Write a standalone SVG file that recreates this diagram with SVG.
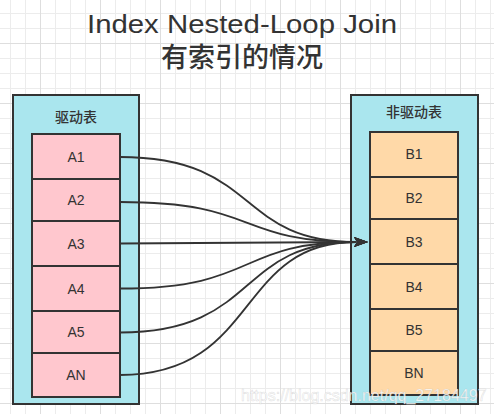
<svg xmlns="http://www.w3.org/2000/svg" width="494" height="414" viewBox="0 0 494 414">
<defs>
<style>
.outer{fill:#aae6ee;stroke:#333;stroke-width:2}
.rowA{fill:#ffc7ce;stroke:#333;stroke-width:2}
.rowB{fill:#ffd9a8;stroke:#333;stroke-width:2}
.lbl{font-family:"Liberation Sans","Noto Sans CJK SC",sans-serif;font-size:14px;fill:#333;text-anchor:middle}
.cjk{font-family:"Noto Sans CJK SC","Liberation Sans",sans-serif;font-size:14px;font-weight:500;fill:#333;text-anchor:middle}
.edge{fill:none;stroke:#333;stroke-width:1.8}
</style>
<pattern id="grid" patternUnits="userSpaceOnUse" x="10" y="13" width="60" height="60">
<rect x="0" y="0" width="1" height="60" fill="#ececec"/>
<rect x="15" y="0" width="1" height="60" fill="#ececec"/>
<rect x="45" y="0" width="1" height="60" fill="#ececec"/>
<rect x="0" y="0" width="60" height="1" fill="#ececec"/>
<rect x="0" y="15" width="60" height="1" fill="#ececec"/>
<rect x="0" y="45" width="60" height="1" fill="#ececec"/>
<rect x="30" y="0" width="1" height="60" fill="#dedede"/>
<rect x="0" y="30" width="60" height="1" fill="#dedede"/>
</pattern>
<marker id="arrow" markerUnits="userSpaceOnUse" markerWidth="16" markerHeight="12" refX="2" refY="5" orient="auto">
<path d="M0,0 L14,5 L0,10 L3,5 Z" fill="#333"/>
</marker>
</defs>
<rect x="0" y="0" width="494" height="414" fill="#fff"/>
<rect x="0" y="0" width="494" height="414" fill="url(#grid)"/>
<g id="title">
<text x="242" y="33" font-family="Liberation Sans, sans-serif" font-size="26" fill="#333" text-anchor="middle" textLength="310" lengthAdjust="spacingAndGlyphs">Index Nested-Loop Join</text>
<text x="242" y="66.5" font-family="Noto Sans CJK SC, sans-serif" font-size="27" font-weight="500" fill="#333" text-anchor="middle">有索引的情况</text>
</g>
<g id="driving-table">
<rect class="outer" x="13" y="95" width="126" height="309"/>
<text class="cjk" x="76" y="121.5">驱动表</text>
</g>
<g id="A1"><rect class="rowA" x="32" y="134" width="88" height="45"/><text class="lbl" x="76" y="161.5">A1</text></g>
<g id="A2"><rect class="rowA" x="32" y="179" width="88" height="42"/><text class="lbl" x="76" y="205">A2</text></g>
<g id="A3"><rect class="rowA" x="32" y="221" width="88" height="45"/><text class="lbl" x="76" y="248.5">A3</text></g>
<g id="A4"><rect class="rowA" x="32" y="266" width="88" height="45"/><text class="lbl" x="76" y="293.5">A4</text></g>
<g id="A5"><rect class="rowA" x="32" y="311" width="88" height="42"/><text class="lbl" x="76" y="337">A5</text></g>
<g id="AN"><rect class="rowA" x="32" y="353" width="88" height="44"/><text class="lbl" x="76" y="380">AN</text></g>
<g id="driven-table">
<rect class="outer" x="351" y="95" width="127" height="309"/>
<text class="cjk" x="414" y="116.5">非驱动表</text>
</g>
<g id="B1"><rect class="rowB" x="370" y="132" width="88" height="45"/><text class="lbl" x="414" y="159">B1</text></g>
<g id="B2"><rect class="rowB" x="370" y="177" width="88" height="42"/><text class="lbl" x="414" y="203">B2</text></g>
<g id="B3"><rect class="rowB" x="370" y="219" width="88" height="45"/><text class="lbl" x="414" y="246.5">B3</text></g>
<g id="B4"><rect class="rowB" x="370" y="264" width="88" height="45"/><text class="lbl" x="414" y="291.5">B4</text></g>
<g id="B5"><rect class="rowB" x="370" y="309" width="88" height="42"/><text class="lbl" x="414" y="335">B5</text></g>
<g id="BN"><rect class="rowB" x="370" y="351" width="88" height="44"/><text class="lbl" x="414" y="378">BN</text></g>
<g id="connectors">
<path class="edge" marker-end="url(#arrow)" d="M120,157 C260,157 235,242 356,242"/>
<path class="edge" marker-end="url(#arrow)" d="M120,202 C260,202 235,242 356,242"/>
<path class="edge" marker-end="url(#arrow)" d="M120,243.5 L356,242"/>
<path class="edge" marker-end="url(#arrow)" d="M120,288.5 C260,288.5 235,242 356,242"/>
<path class="edge" marker-end="url(#arrow)" d="M120,332.5 C260,332.5 235,242 356,242"/>
<path class="edge" marker-end="url(#arrow)" d="M120,375 C260,375 235,242 356,242"/>
</g>
<text x="241" y="400.5" font-family="Liberation Sans, sans-serif" font-size="16" fill="#fff" fill-opacity="0.85" stroke="#999" stroke-opacity="0.3" stroke-width="0.6">https://blog.csdn.net/qq_27184497</text>
</svg>
